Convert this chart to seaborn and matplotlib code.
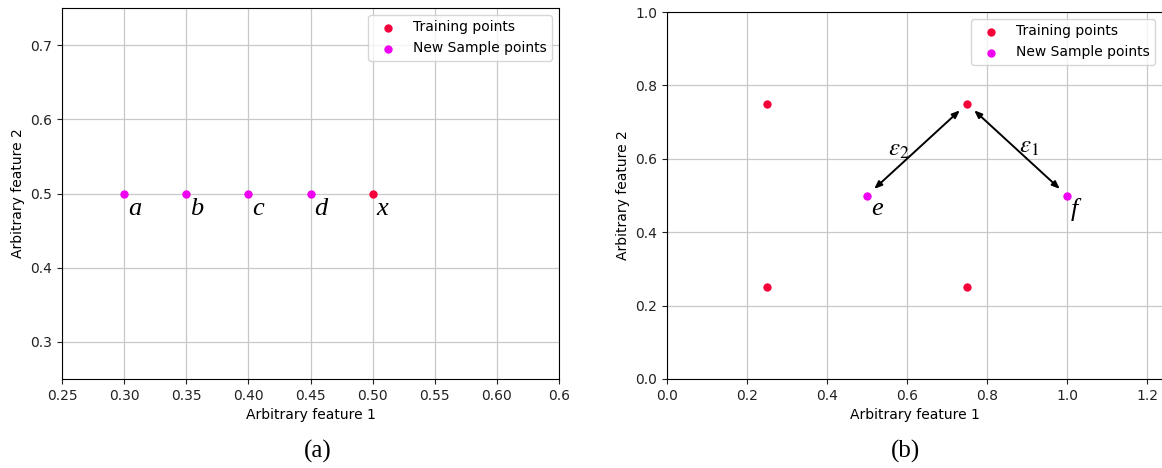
import matplotlib
matplotlib.use('Agg')
import matplotlib.pyplot as plt
import seaborn as sns
import pandas as pd

# panel (a): points on one line
train_a_x = [0.50]
train_a_y = [0.50]
train_a_names = ['x']
new_a_x = [0.30, 0.35, 0.40, 0.45]
new_a_y = [0.50, 0.50, 0.50, 0.50]
new_a_names = ['a', 'b', 'c', 'd']
xticks_a = [0.25, 0.30, 0.35, 0.40, 0.45, 0.50, 0.55, 0.60, 0.65]
xtick_labels_a = ['0.25', '0.30', '0.35', '0.40', '0.45', '0.50', '0.55', '0.60', '0.6']
yticks_a = [0.3, 0.4, 0.5, 0.6, 0.7]

# panel (b): square of training points, two new samples
train_b_x = [0.25, 0.25, 0.75, 0.75]
train_b_y = [0.75, 0.25, 0.75, 0.25]
new_b_x = [0.50, 1.00]
new_b_y = [0.50, 0.50]
new_b_names = ['e', 'f']
eps_labels = [r'$\varepsilon_2$', r'$\varepsilon_1$']
eps_x = [0.58, 0.905]
eps_y = [0.628, 0.635]

RED = '#f5003a'
MAGENTA = '#f000f0'

plt.rcParams['mathtext.fontset'] = 'stix'
fig = plt.figure(figsize=(11.62, 4.68), dpi=100)
ax1 = fig.add_axes([62 / 1162, 89 / 468, 497 / 1162, 371 / 468])
ax2 = fig.add_axes([667 / 1162, 89 / 468, 495 / 1162, 367 / 468])

letter_font = dict(family='Liberation Serif', style='italic', fontsize=19)

# ---- (a)
sns.scatterplot(x=train_a_x, y=train_a_y, color=RED, s=36, linewidth=0,
                label='Training points', ax=ax1, zorder=3)
sns.scatterplot(x=new_a_x, y=new_a_y, color=MAGENTA, s=36, linewidth=0,
                label='New Sample points', ax=ax1, zorder=3)
for x, y, n in zip(new_a_x + train_a_x, new_a_y + train_a_y, new_a_names + train_a_names):
    ax1.annotate(n, (x, y), xytext=(3, -3), textcoords='offset points',
                 ha='left', va='top', **letter_font)
ax1.set_xlim(0.25, 0.65)
ax1.set_ylim(0.25, 0.75)
ax1.set_xticks(xticks_a)
ax1.set_xticklabels(xtick_labels_a)
ax1.set_yticks(yticks_a)

# ---- (b)
sns.scatterplot(x=train_b_x, y=train_b_y, color=RED, s=36, linewidth=0,
                label='Training points', ax=ax2, zorder=3)
sns.scatterplot(x=new_b_x, y=new_b_y, color=MAGENTA, s=36, linewidth=0,
                label='New Sample points', ax=ax2, zorder=3)
for x, y, n in zip(new_b_x, new_b_y, new_b_names):
    ax2.annotate(n, (x, y), xytext=(3, -2), textcoords='offset points',
                 ha='left', va='top', **letter_font)
for x, y in zip(new_b_x, new_b_y):
    ax2.annotate('', xy=(x, y), xytext=(train_b_x[2], train_b_y[2]),
                 arrowprops=dict(arrowstyle='<|-|>,head_length=0.45,head_width=0.18',
                                 color='black', lw=1.4, shrinkA=7, shrinkB=7))
for lab, x, y in zip(eps_labels, eps_x, eps_y):
    ax2.text(x, y, lab, ha='center', va='center', fontsize=18)
ax2.set_xlim(0, 1.2375)
ax2.set_ylim(0, 1.0)
ax2.set_xticks([0.0, 0.2, 0.4, 0.6, 0.8, 1.0, 1.2])
ax2.set_yticks([0.0, 0.2, 0.4, 0.6, 0.8, 1.0])
ax2.spines['right'].set_visible(False)

for ax in (ax1, ax2):
    ax.grid(True, color='#c8c8c8', linewidth=0.9)
    ax.set_axisbelow(True)
    ax.set_xlabel('Arbitrary feature 1', fontsize=10)
    ax.set_ylabel('Arbitrary feature 2', fontsize=10)
    ax.tick_params(labelsize=10, colors='#222222')
    ax.legend(loc='upper right', fontsize=10)

fig.text(318 / 1162, 1 - 451 / 468, '(a)', family='Liberation Serif',
         fontsize=18, ha='center', va='center')
fig.text(906 / 1162, 1 - 451 / 468, '(b)', family='Liberation Serif',
         fontsize=18, ha='center', va='center')

plt.savefig('out.png', dpi=100)
plt.close()
